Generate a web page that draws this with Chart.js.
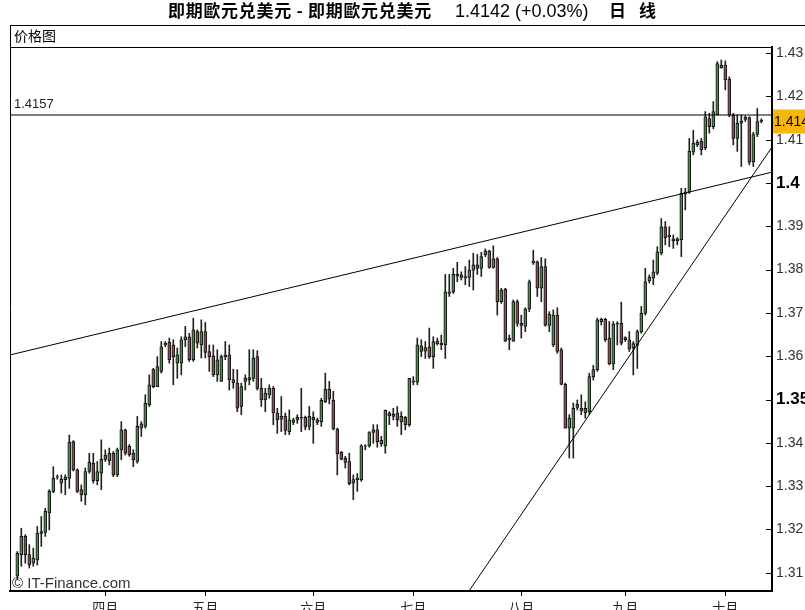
<!DOCTYPE html>
<html>
<head>
<meta charset="utf-8">
<script src="https://cdn.jsdelivr.net/npm/chart.js@4.4.0/dist/chart.umd.min.js"></script>
<style>
  html, body { margin: 0; padding: 0; background: #fff; }
  #wrap { position: relative; width: 805px; height: 610px; overflow: hidden; }
  #chart { position: absolute; left: 0; top: 0; }
  .txt { position: absolute; white-space: pre; color: #000; line-height: 1; }
  .cjk { font-family: "Noto Sans CJK SC", sans-serif; }
  .lat { font-family: "Liberation Sans", Arial, sans-serif; }
</style>
</head>
<body>
<div id="wrap">
  <canvas id="chart" width="805" height="610"></canvas>
  <div class="txt cjk" style="left:168px; top:1px; font-size:17px; font-weight:bold; letter-spacing:0.7px;">即期歐元兑美元 - 即期歐元兑美元</div>
  <div class="txt lat" id="lastTxt" style="left:455px; top:2px; font-size:18px;"></div>
  <div class="txt cjk" style="left:609px; top:1px; font-size:17px; font-weight:bold;">日</div>
  <div class="txt cjk" style="left:639px; top:1px; font-size:17px; font-weight:bold;">线</div>
  <div class="txt cjk" style="left:14px; top:28px; font-size:14px;">价格图</div>
  <div class="txt lat" id="refTxt" style="left:14px; top:97px; font-size:13px; color:#222;"></div>
  <div class="txt lat" style="left:12px; top:575px; font-size:15px; color:#333;">© IT-Finance.com</div>
</div>
<script>
// Daily candles [open, high, low, close]
const ohlc = [
  [1.3092, 1.3149, 1.3084, 1.3145], [1.3142, 1.3203, 1.3115, 1.3184], [1.3184, 1.3188, 1.3122, 1.3142],
  [1.3142, 1.3165, 1.3111, 1.3118], [1.3122, 1.3157, 1.3115, 1.3134], [1.3130, 1.3207, 1.3118, 1.3191],
  [1.3191, 1.3230, 1.3161, 1.3195], [1.3193, 1.3249, 1.3184, 1.3242], [1.3238, 1.3292, 1.3199, 1.3288],
  [1.3288, 1.3345, 1.3285, 1.3318], [1.3321, 1.3326, 1.3316, 1.3322], [1.3307, 1.3326, 1.3284, 1.3316],
  [1.3315, 1.3326, 1.3280, 1.3321], [1.3318, 1.3418, 1.3295, 1.3401], [1.3403, 1.3405, 1.3335, 1.3338],
  [1.3338, 1.3340, 1.3285, 1.3288], [1.3292, 1.3303, 1.3265, 1.3280], [1.3280, 1.3342, 1.3257, 1.3334],
  [1.3334, 1.3376, 1.3330, 1.3355], [1.3353, 1.3376, 1.3307, 1.3313], [1.3313, 1.3357, 1.3303, 1.3334],
  [1.3330, 1.3407, 1.3292, 1.3362], [1.3372, 1.3384, 1.3357, 1.3362], [1.3359, 1.3388, 1.3349, 1.3376],
  [1.3376, 1.3380, 1.3322, 1.3326], [1.3326, 1.3388, 1.3322, 1.3384], [1.3384, 1.3449, 1.3361, 1.3430],
  [1.3430, 1.3432, 1.3372, 1.3376], [1.3392, 1.3396, 1.3369, 1.3372], [1.3376, 1.3384, 1.3345, 1.3361],
  [1.3357, 1.3461, 1.3353, 1.3438], [1.3434, 1.3449, 1.3415, 1.3444], [1.3438, 1.3511, 1.3434, 1.3492],
  [1.3488, 1.3557, 1.3484, 1.3534], [1.3569, 1.3572, 1.3527, 1.3530], [1.3530, 1.3599, 1.3530, 1.3576],
  [1.3565, 1.3634, 1.3561, 1.3622], [1.3626, 1.3634, 1.3622, 1.3630], [1.3632, 1.3642, 1.3584, 1.3592],
  [1.3626, 1.3638, 1.3534, 1.3599], [1.3584, 1.3619, 1.3549, 1.3603], [1.3584, 1.3645, 1.3557, 1.3638],
  [1.3638, 1.3669, 1.3622, 1.3645], [1.3645, 1.3653, 1.3588, 1.3592], [1.3592, 1.3688, 1.3588, 1.3661],
  [1.3657, 1.3661, 1.3619, 1.3630], [1.3626, 1.3684, 1.3596, 1.3657], [1.3657, 1.3678, 1.3596, 1.3609],
  [1.3611, 1.3626, 1.3565, 1.3599], [1.3601, 1.3626, 1.3553, 1.3557], [1.3557, 1.3615, 1.3542, 1.3592],
  [1.3542, 1.3603, 1.3542, 1.3599], [1.3599, 1.3634, 1.3592, 1.3603], [1.3603, 1.3626, 1.3522, 1.3546],
  [1.3546, 1.3570, 1.3526, 1.3539], [1.3538, 1.3569, 1.3472, 1.3480], [1.3484, 1.3538, 1.3465, 1.3530],
  [1.3542, 1.3557, 1.3522, 1.3549], [1.3546, 1.3615, 1.3534, 1.3551], [1.3549, 1.3615, 1.3542, 1.3596],
  [1.3599, 1.3613, 1.3522, 1.3526], [1.3526, 1.3549, 1.3484, 1.3499], [1.3499, 1.3526, 1.3472, 1.3515],
  [1.3511, 1.3534, 1.3503, 1.3526], [1.3526, 1.3530, 1.3442, 1.3469], [1.3469, 1.3480, 1.3422, 1.3453],
  [1.3455, 1.3507, 1.3426, 1.3461], [1.3462, 1.3469, 1.3419, 1.3429], [1.3426, 1.3476, 1.3419, 1.3453],
  [1.3447, 1.3457, 1.3442, 1.3453], [1.3453, 1.3465, 1.3445, 1.3459], [1.3457, 1.3526, 1.3426, 1.3459],
  [1.3459, 1.3462, 1.3430, 1.3436], [1.3438, 1.3484, 1.3430, 1.3461], [1.3459, 1.3472, 1.3399, 1.3453],
  [1.3447, 1.3457, 1.3442, 1.3453], [1.3449, 1.3503, 1.3438, 1.3498], [1.3495, 1.3561, 1.3493, 1.3524],
  [1.3524, 1.3542, 1.3490, 1.3501], [1.3499, 1.3519, 1.3430, 1.3432], [1.3432, 1.3434, 1.3326, 1.3375],
  [1.3378, 1.3380, 1.3361, 1.3362], [1.3365, 1.3369, 1.3342, 1.3355], [1.3357, 1.3376, 1.3303, 1.3306],
  [1.3307, 1.3326, 1.3269, 1.3315], [1.3315, 1.3329, 1.3288, 1.3319], [1.3315, 1.3396, 1.3311, 1.3393],
  [1.3392, 1.3396, 1.3384, 1.3393], [1.3393, 1.3426, 1.3390, 1.3424], [1.3424, 1.3442, 1.3399, 1.3430],
  [1.3430, 1.3442, 1.3390, 1.3403], [1.3398, 1.3415, 1.3392, 1.3406], [1.3393, 1.3476, 1.3376, 1.3475],
  [1.3469, 1.3472, 1.3442, 1.3463], [1.3461, 1.3480, 1.3453, 1.3466], [1.3469, 1.3484, 1.3438, 1.3453],
  [1.3449, 1.3472, 1.3419, 1.3461], [1.3459, 1.3461, 1.3430, 1.3442], [1.3442, 1.3549, 1.3438, 1.3549],
  [1.3543, 1.3553, 1.3534, 1.3540], [1.3540, 1.3642, 1.3534, 1.3626], [1.3624, 1.3638, 1.3599, 1.3611],
  [1.3612, 1.3634, 1.3595, 1.3620], [1.3622, 1.3665, 1.3595, 1.3599], [1.3599, 1.3645, 1.3572, 1.3634],
  [1.3629, 1.3642, 1.3626, 1.3635], [1.3630, 1.3649, 1.3615, 1.3626], [1.3626, 1.3789, 1.3595, 1.3749],
  [1.3745, 1.3789, 1.3738, 1.3749], [1.3748, 1.3803, 1.3745, 1.3789], [1.3785, 1.3817, 1.3772, 1.3789],
  [1.3788, 1.3795, 1.3776, 1.3782], [1.3780, 1.3807, 1.3765, 1.3784], [1.3782, 1.3822, 1.3761, 1.3799],
  [1.3799, 1.3838, 1.3753, 1.3811], [1.3811, 1.3835, 1.3789, 1.3803], [1.3803, 1.3840, 1.3784, 1.3830],
  [1.3834, 1.3848, 1.3830, 1.3843], [1.3843, 1.3845, 1.3803, 1.3805], [1.3805, 1.3855, 1.3803, 1.3825],
  [1.3825, 1.3828, 1.3695, 1.3726], [1.3726, 1.3757, 1.3722, 1.3753], [1.3755, 1.3757, 1.3634, 1.3635],
  [1.3642, 1.3649, 1.3615, 1.3638], [1.3635, 1.3730, 1.3634, 1.3726], [1.3726, 1.3730, 1.3669, 1.3676],
  [1.3676, 1.3695, 1.3642, 1.3671], [1.3669, 1.3712, 1.3657, 1.3709], [1.3709, 1.3776, 1.3703, 1.3772],
  [1.3816, 1.3845, 1.3812, 1.3820], [1.3818, 1.3820, 1.3738, 1.3757], [1.3757, 1.3828, 1.3726, 1.3807],
  [1.3807, 1.3825, 1.3669, 1.3672], [1.3671, 1.3703, 1.3657, 1.3697], [1.3626, 1.3707, 1.3622, 1.3695],
  [1.3695, 1.3712, 1.3607, 1.3611], [1.3615, 1.3619, 1.3534, 1.3535], [1.3535, 1.3538, 1.3434, 1.3434],
  [1.3434, 1.3465, 1.3365, 1.3457], [1.3434, 1.3492, 1.3365, 1.3480], [1.3482, 1.3499, 1.3476, 1.3489],
  [1.3474, 1.3511, 1.3465, 1.3480], [1.3480, 1.3495, 1.3457, 1.3469], [1.3472, 1.3561, 1.3465, 1.3553],
  [1.3553, 1.3579, 1.3545, 1.3569], [1.3569, 1.3688, 1.3565, 1.3684], [1.3680, 1.3688, 1.3672, 1.3685],
  [1.3685, 1.3688, 1.3634, 1.3638], [1.3642, 1.3680, 1.3580, 1.3582], [1.3582, 1.3680, 1.3569, 1.3674],
  [1.3676, 1.3680, 1.3626, 1.3674], [1.3676, 1.3725, 1.3626, 1.3630], [1.3643, 1.3645, 1.3634, 1.3638],
  [1.3638, 1.3657, 1.3611, 1.3617], [1.3619, 1.3634, 1.3557, 1.3629], [1.3625, 1.3661, 1.3572, 1.3657],
  [1.3657, 1.3715, 1.3653, 1.3699], [1.3699, 1.3803, 1.3695, 1.3772], [1.3774, 1.3788, 1.3769, 1.3782],
  [1.3780, 1.3822, 1.3765, 1.3795], [1.3792, 1.3853, 1.3788, 1.3841], [1.3838, 1.3918, 1.3834, 1.3899],
  [1.3899, 1.3911, 1.3857, 1.3874], [1.3880, 1.3899, 1.3853, 1.3876], [1.3866, 1.3880, 1.3849, 1.3871],
  [1.3871, 1.3874, 1.3857, 1.3866], [1.3869, 1.3988, 1.3830, 1.3976], [1.3974, 1.3988, 1.3938, 1.3979],
  [1.3979, 1.4103, 1.3976, 1.4073], [1.4071, 1.4122, 1.4065, 1.4092], [1.4088, 1.4099, 1.4084, 1.4094],
  [1.4097, 1.4103, 1.4065, 1.4077], [1.4081, 1.4165, 1.4077, 1.4153], [1.4149, 1.4161, 1.4115, 1.4130],
  [1.4130, 1.4188, 1.4125, 1.4165], [1.4158, 1.4280, 1.4157, 1.4276], [1.4266, 1.4284, 1.4265, 1.4272],
  [1.4272, 1.4282, 1.4215, 1.4238], [1.4240, 1.4245, 1.4153, 1.4157], [1.4157, 1.4161, 1.4088, 1.4103],
  [1.4103, 1.4157, 1.4073, 1.4138], [1.4138, 1.4157, 1.4038, 1.4143], [1.4147, 1.4155, 1.4142, 1.4152],
  [1.4151, 1.4153, 1.4042, 1.4048], [1.4049, 1.4117, 1.4038, 1.4112], [1.4112, 1.4172, 1.4107, 1.4142],
  [1.4145, 1.4148, 1.4139, 1.4142]
];

// x axis: candle index of each month start, and its label
const monthStarts = [22, 47, 74, 99, 126, 152, 177];
const monthNames = ["四月", "五月", "六月", "七月", "八月", "九月", "十月"];

// y axis ticks
const yTicks = [1.31, 1.32, 1.33, 1.34, 1.35, 1.36, 1.37, 1.38, 1.39, 1.4, 1.41, 1.42, 1.43];

// drawn lines: [candle index, price]
const trendUpper = [[-1.825, 1.3603], [188.675, 1.4025]];
const trendLower = [[112.925, 1.3058], [188.675, 1.4083]];
const refLevel = 1.4157;
const lastChange = "+0.03%";

const xMin = -1.825, xMax = 188.675;
const yMin = 1.3058, yMax = 1.4314;

const GREEN = "#4b8a4b";
const RED = "#8d5050";

const lastClose = ohlc[ohlc.length - 1][3];
document.getElementById("lastTxt").textContent = lastClose.toFixed(4) + " (" + lastChange + ")";
document.getElementById("refTxt").textContent = refLevel.toFixed(4);

const wicks = ohlc.map((c, i) => ({ x: i, y: [c[2], c[1]] }));
const bodies = ohlc.map((c, i) => ({ x: i, y: [c[0], c[3]] }));
const bodyColors = ohlc.map((c) => (c[3] >= c[0] ? GREEN : RED));
const toPts = (arr) => arr.map((p) => ({ x: p[0], y: p[1] }));

// round price levels (1.35, 1.40) get the bold label
const isMajor = (c) => c && c.tick && Math.abs(c.tick.value * 20 - Math.round(c.tick.value * 20)) < 1e-6;

// Frame lines, inner y tick marks and the last-price tag
const decor = {
  id: "decor",
  afterDraw(chart) {
    const { ctx, chartArea: a, scales } = chart;
    ctx.save();
    ctx.strokeStyle = "#000";
    ctx.lineWidth = 1;
    ctx.beginPath();
    ctx.moveTo(10, 25.5); ctx.lineTo(805, 25.5);
    ctx.moveTo(10.5, 25.5); ctx.lineTo(10.5, a.bottom);
    ctx.moveTo(10, a.top + 0.5); ctx.lineTo(a.right, a.top + 0.5);
    yTicks.forEach((v) => {
      const y = Math.round(scales.y.getPixelForValue(v)) + 0.5;
      ctx.moveTo(a.right - 6, y); ctx.lineTo(a.right, y);
    });
    ctx.stroke();

    const yc = scales.y.getPixelForValue(lastClose);
    ctx.fillStyle = "#f6b60c";
    ctx.fillRect(a.right + 1, yc - 12, 40, 24);
    ctx.fillStyle = "#000";
    ctx.font = "14px 'Liberation Sans', Arial";
    ctx.textBaseline = "middle";
    ctx.fillText(lastClose.toFixed(4), a.right + 2, yc + 1);
    ctx.restore();
  },
};

new Chart(document.getElementById("chart"), {
  type: "bar",
  data: {
    datasets: [
      {
        label: "wick",
        data: wicks,
        backgroundColor: "#222",
        borderWidth: 0,
        barThickness: 1,
        grouped: false,
        order: 3,
      },
      {
        label: "body",
        data: bodies,
        backgroundColor: bodyColors,
        borderColor: "#111",
        borderWidth: 1,
        borderSkipped: false,
        barThickness: 3,
        grouped: false,
        order: 2,
      },
      {
        type: "line",
        label: "ref",
        data: [{ x: xMin, y: refLevel }, { x: xMax, y: refLevel }],
        borderColor: "#000",
        borderWidth: 1,
        pointRadius: 0,
        order: 1,
      },
      {
        type: "line",
        label: "upper",
        data: toPts(trendUpper),
        borderColor: "#000",
        borderWidth: 1,
        pointRadius: 0,
        order: 1,
      },
      {
        type: "line",
        label: "lower",
        data: toPts(trendLower),
        borderColor: "#000",
        borderWidth: 1,
        pointRadius: 0,
        order: 1,
      },
    ],
  },
  options: {
    responsive: false,
    animation: false,
    layout: { padding: { left: 10, top: 47, right: 0, bottom: 0 } },
    plugins: {
      legend: { display: false },
      tooltip: { enabled: false },
      title: { display: false },
    },
    scales: {
      x: {
        type: "linear",
        min: xMin,
        max: xMax,
        offset: false,
        afterBuildTicks: (axis) => {
          axis.ticks = monthStarts.map((v) => ({ value: v }));
        },
        afterFit: (axis) => {
          axis.height = 19;
        },
        grid: {
          offset: false,
          drawOnChartArea: false,
          drawTicks: true,
          tickLength: 5,
          tickColor: "#000",
        },
        border: { color: "#000", width: 2 },
        ticks: {
          autoSkip: false,
          maxRotation: 0,
          padding: 3,
          color: "#222",
          font: { family: "'Noto Sans CJK SC', sans-serif", size: 13 },
          callback: (v) => monthNames[monthStarts.indexOf(v)],
        },
      },
      y: {
        position: "right",
        min: yMin,
        max: yMax,
        afterBuildTicks: (axis) => {
          axis.ticks = yTicks.map((v) => ({ value: v }));
        },
        afterFit: (axis) => {
          axis.width = 33;
        },
        grid: { drawOnChartArea: false, drawTicks: false },
        border: { color: "#000", width: 2 },
        ticks: {
          padding: 4,
          color: (c) => (isMajor(c) ? "#000" : "#333"),
          font: (c) =>
            isMajor(c)
              ? { family: "'Liberation Sans', Arial", size: 17, weight: "bold" }
              : { family: "'Liberation Sans', Arial", size: 14 },
          callback: (v) => String(+v.toFixed(2)),
        },
      },
    },
  },
  plugins: [decor],
});
</script>
</body>
</html>
